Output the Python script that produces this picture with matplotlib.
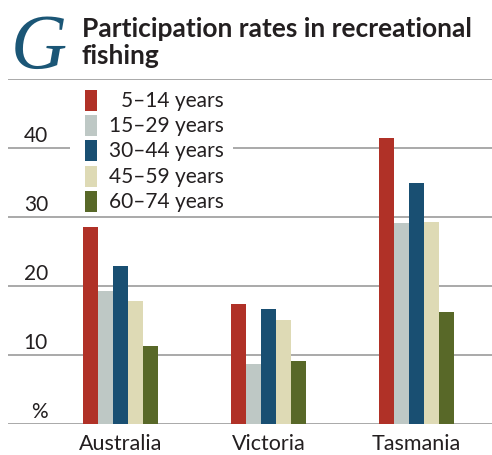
import matplotlib
matplotlib.use("Agg")
import matplotlib.pyplot as plt
import matplotlib.transforms as mtransforms
from matplotlib.patches import Rectangle
import numpy as np

categories = ["Australia", "Victoria", "Tasmania"]
series_labels = ["5\u201314 years", "15\u201329 years", "30\u201344 years", "45\u201359 years", "60\u201374 years"]
values = {
    "5\u201314 years":  [28.5, 17.3, 41.4],
    "15\u201329 years": [19.2, 8.6, 29.1],
    "30\u201344 years": [22.9, 16.6, 34.9],
    "45\u201359 years": [17.8, 15.0, 29.2],
    "60\u201374 years": [11.3, 9.1, 16.2],
}
colors = ["#b03127", "#bec8c5", "#194f72", "#dedab5", "#586828"]
yticks = [0, 10, 20, 30, 40]
ytick_labels = ["%", "10", "20", "30", "40"]

W, H = 492, 456
fig = plt.figure(figsize=(W / 100, H / 100), dpi=100)
FONT = "Lato"
TEXTC = "#231f20"

def fx(px):
    return px / W

def fy(py):
    return 1 - py / H

# axes: x from 8 to 492 px, y baseline 424.7 px (0) to 80 px (50)
ax = fig.add_axes([fx(8), fy(424.7), fx(484), (424.7 - 80) / H])
ax.set_ylim(0, 50)
x = np.arange(len(categories))
ax.set_xlim(-0.76, 2.51)
bw = 0.101
for i, lab in enumerate(series_labels):
    ax.bar(x + (i - 2) * bw, values[lab], width=bw, color=colors[i], zorder=3, linewidth=0)
for g in [0, 10, 20, 30, 40, 50]:
    ax.axhline(g, color="#a3a3a3", lw=1.3, zorder=1)
for s in ax.spines.values():
    s.set_visible(False)
ax.set_xticks([])
ax.set_yticks([])

# y tick labels above gridlines
trans = mtransforms.blended_transform_factory(fig.transFigure, ax.transData)
for v, t in zip(yticks, ytick_labels):
    ax.text(fx(48), v + 0.45, t, transform=trans, ha="right", va="bottom",
            fontsize=15, family=FONT, color=TEXTC, zorder=5)

# category labels
transx = mtransforms.blended_transform_factory(ax.transData, fig.transFigure)
for xi, c in zip(x, categories):
    ax.text(xi, fy(450), c, transform=transx, ha="center", va="baseline",
            fontsize=15.5, family=FONT, color=TEXTC)

# legend background and entries
ax.add_patch(Rectangle((fx(70), fy(212)), fx(163), (212 - 88) / H, transform=fig.transFigure,
                       facecolor="white", edgecolor="none", zorder=2))
centers = [101, 126, 151, 177, 202]
for i, lab in enumerate(series_labels):
    cy = centers[i]
    fig.patches.append(Rectangle((fx(85), fy(cy + 10.5)), fx(12), 21 / H, transform=fig.transFigure,
                                 facecolor=colors[i], edgecolor="none"))
    fig.text(fx(224), fy(cy), lab, ha="right", va="center", fontsize=15, family=FONT, color=TEXTC)

# title
fig.text(fx(11), fy(68), "G", fontsize=56, family="Liberation Serif", style="italic",
         color="#1b5676", ha="left", va="baseline")
fig.text(fx(82), fy(37), "Participation rates in recreational", fontsize=19, family=FONT,
         weight="bold", color=TEXTC, ha="left", va="baseline")
fig.text(fx(82), fy(64), "fishing", fontsize=19, family=FONT,
         weight="bold", color=TEXTC, ha="left", va="baseline")

fig.savefig("out.png", dpi=100)
